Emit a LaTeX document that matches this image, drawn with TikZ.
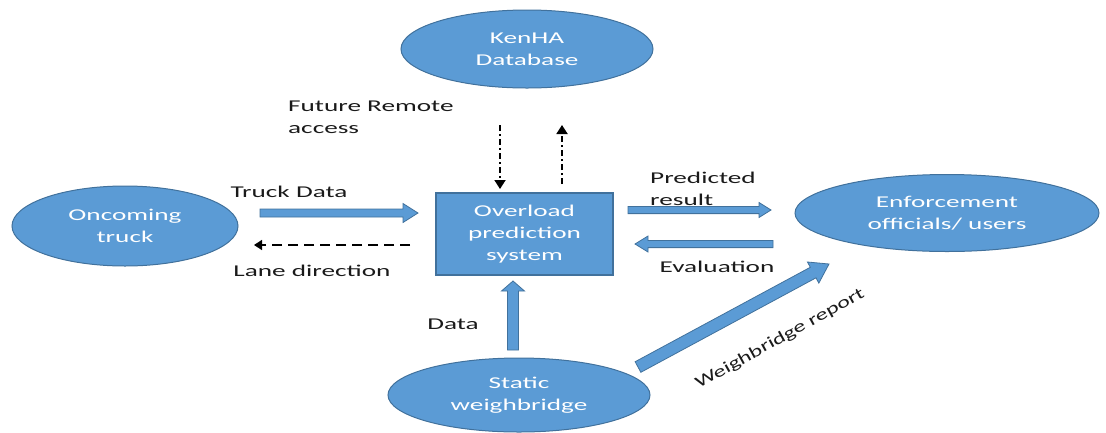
\documentclass[tikz,border=0pt]{standalone}
\usepackage{fontspec}
\setmainfont{Carlito}
\usetikzlibrary{shapes.geometric,arrows.meta,calc}
\definecolor{fillblue}{HTML}{5B9BD5}
\definecolor{edgeblue}{HTML}{41719C}
\definecolor{inktext}{HTML}{1A1A1A}
% widened lettering
\newcommand\wide[1]{\scalebox{1.65}[1]{#1}}
% block arrow: from, to, shaft half width, head half width, head length (pt)
\newcommand\blockarrow[5]{%
  \draw[barrow] let \p1=(#1), \p2=(#2),
      \n1={atan2(\y2-\y1,\x2-\x1)},
      \n2={veclen(\x2-\x1,\y2-\y1)-#5pt} in
    ($(\p1)+(\n1+90:#3pt)$)
    -- ($(\p1)+(\n1:\n2)+(\n1+90:#3pt)$)
    -- ($(\p1)+(\n1:\n2)+(\n1+90:#4pt)$)
    -- (\p2)
    -- ($(\p1)+(\n1:\n2)+(\n1-90:#4pt)$)
    -- ($(\p1)+(\n1:\n2)+(\n1-90:#3pt)$)
    -- ($(\p1)+(\n1-90:#3pt)$) -- cycle;}
\begin{document}
\begin{tikzpicture}[x=1pt,y=-1pt,
  font=\fontsize{16.5}{22}\selectfont,
  blob/.style={ellipse, draw=edgeblue, line width=1pt, fill=fillblue,
    text=white, inner sep=0pt, align=center},
  sysbox/.style={rectangle, draw=edgeblue, line width=1.4pt, fill=fillblue,
    text=white, inner sep=0pt, align=center},
  lbl/.style={text=inktext, inner sep=0pt},
  barrow/.style={draw=edgeblue, line width=0.8pt, fill=fillblue},
  lanearrow/.style={line width=1.4pt, dash pattern=on 10pt off 6pt,
    -{Triangle[width=10pt,length=8pt]}},
  linkarrow/.style={line width=1.8pt, dash pattern=on 6pt off 3pt on 2pt off 3pt,
    -{Triangle[width=11pt,length=9pt]}}]
\useasboundingbox (0,0) rectangle (1106,432);

% shapes
\node[blob, minimum width=252pt, minimum height=78pt] (kenha) at (527,49)
  {\wide{KenHA}\\\wide{Database}};
\node[blob, minimum width=226pt, minimum height=80pt] (truck) at (125,226)
  {\wide{Oncoming}\\\wide{truck}};
\node[sysbox, minimum width=177pt, minimum height=82pt] (ops) at (524.5,234)
  {\wide{Overload}\\\wide{prediction}\\\wide{system}};
\node[blob, minimum width=304pt, minimum height=77pt] (enf) at (947,213)
  {\wide{Enforcement}\\\wide{officials/ users}};
\node[blob, minimum width=262pt, minimum height=74pt] (wb) at (519,395)
  {\wide{Static}\\\wide{weighbridge}};

% connector end points
\coordinate (td-s) at (260,213);   \coordinate (td-e) at (418,213);
\coordinate (ln-s) at (410,245);   \coordinate (ln-e) at (254,245);
\coordinate (pr-s) at (628,210);   \coordinate (pr-e) at (771,210);
\coordinate (ev-s) at (773,244);   \coordinate (ev-e) at (635,244);
\coordinate (da-s) at (513,350);   \coordinate (da-e) at (513,281);
\coordinate (wr-s) at (638,367);   \coordinate (wr-e) at (829,264);
\coordinate (dn-s) at (500,125);   \coordinate (dn-e) at (500,189);
\coordinate (up-s) at (562,184);   \coordinate (up-e) at (562,125);

% connectors
\blockarrow{td-s}{td-e}{4}{9.5}{15}
\blockarrow{pr-s}{pr-e}{3.6}{7.5}{12}
\blockarrow{ev-s}{ev-e}{3.6}{8}{13}
\blockarrow{da-s}{da-e}{5.5}{11.5}{10}
\blockarrow{wr-s}{wr-e}{6}{12}{18}
\draw[lanearrow] (ln-s) -- (ln-e);
\draw[linkarrow] (dn-s) -- (dn-e);
\draw[linkarrow] (up-s) -- (up-e);

% labels
\node[lbl, anchor=west, align=left] (futlbl) at (288,117.5)
  {\wide{Future Remote}\\\wide{access}};
\node[lbl] (tdlbl) at (289,192) {\wide{Truck Data}};
\node[lbl] (lnlbl) at (312,271) {\wide{Lane direction}};
\node[lbl, anchor=west, align=left] (prlbl) at (650,189)
  {\wide{Predicted}\\\wide{result}};
\node[lbl] (evlbl) at (717,267) {\wide{Evaluation}};
\node[lbl] (dalbl) at (453,324) {\wide{Data}};
\node[lbl, rotate=29] (wrlbl) at (780,339) {\scalebox{1.45}[1]{Weighbridge report}};
\end{tikzpicture}
\end{document}
